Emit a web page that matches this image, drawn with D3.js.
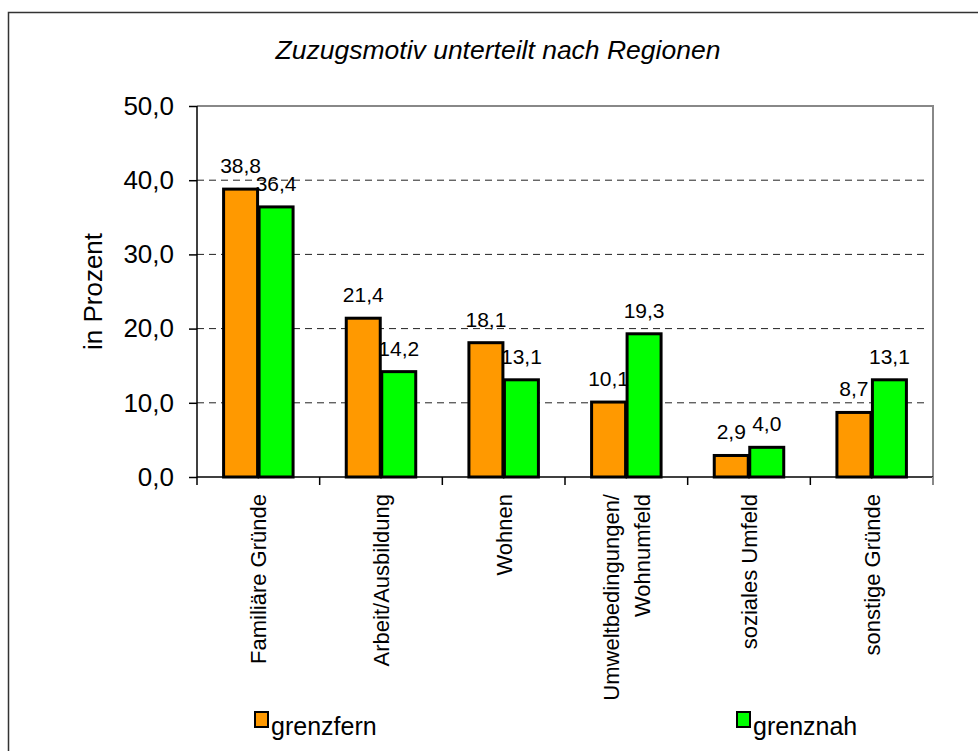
<!DOCTYPE html>
<html>
<head>
<meta charset="utf-8">
<script src="https://cdn.jsdelivr.net/npm/d3@7"></script>
<style>
  body { margin: 0; background: #fff; }
  svg { display: block; font-family: "Liberation Sans", Arial, sans-serif; }
</style>
</head>
<body>
<div id="chart"></div>
<script>
const WIDTH = 978;
const HEIGHT = 751;
const MARGIN = {top: 106, right: 45, bottom: 274, left: 197};

const categories = [
  ["Familiäre Gründe"],
  ["Arbeit/Ausbildung"],
  ["Wohnen"],
  ["Umweltbedingungen/", "Wohnumfeld"],
  ["soziales Umfeld"],
  ["sonstige Gründe"]
];
const seriesNames = ["grenzfern", "grenznah"];
const grenzfern = [38.8, 21.4, 18.1, 10.1, 2.9, 8.7];
const grenznah = [36.4, 14.2, 13.1, 19.3, 4.0, 13.1];
const yTicks = [0, 10, 20, 30, 40, 50];
const colors = ["#ff9900", "#00ff00"];

const fmt = v => d3.format(".1f")(v).replace(".", ",");

let svg = d3.select("#chart")
  .append("svg")
  .attr("width", WIDTH)
  .attr("height", HEIGHT)

// outer chart border
svg.append("rect")
  .attr("x", 8.5).attr("y", 12.5)
  .attr("width", 1000).attr("height", 1000)
  .style("fill", "none")
  .style("stroke", "#333")
  .style("stroke-width", 1.5)

svg.append("text")
  .attr("x", 498).attr("y", 59)
  .attr("text-anchor", "middle")
  .style("font-size", "26.5px")
  .style("font-style", "italic")
  .text("Zuzugsmotiv unterteilt nach Regionen")

let w = WIDTH - MARGIN.left - MARGIN.right;
let h = HEIGHT - MARGIN.top - MARGIN.bottom;

let g = svg.append("g")
  .attr("transform", `translate(${MARGIN.left}, ${MARGIN.top})`)

let keys = categories.map((c, i) => i);
let x0 = d3.scaleBand().domain(keys).range([0, w]).padding(0);
let x1 = d3.scaleBand().domain(seriesNames).range([0, x0.bandwidth()])
  .paddingInner(0).paddingOuter(0.728);
let y = d3.scaleLinear().domain([0, 50]).range([h, 0]);

// gridlines
g.selectAll("line.grid")
  .data(yTicks.filter(t => t > 0 && t < 50))
  .enter()
  .append("line")
  .attr("class", "grid")
  .attr("x1", 0).attr("x2", w - 8)
  .attr("y1", d => y(d)).attr("y2", d => y(d))
  .style("stroke", "#222")
  .style("stroke-dasharray", "7,5")

// top and right frame
g.append("path")
  .attr("d", `M0,${y(50)}H${w}V${h}`)
  .style("fill", "none")
  .style("stroke", "#888")
  .style("stroke-width", 2)

// bars
let data = [grenzfern, grenznah];
let groups = g.selectAll("g.cat")
  .data(keys)
  .enter()
  .append("g")
  .attr("transform", d => `translate(${x0(d)},0)`)

groups.selectAll("rect")
  .data(i => seriesNames.map((s, j) => ({s: s, j: j, v: data[j][i]})))
  .enter()
  .append("rect")
  .attr("x", d => x1(d.s) + 0.75)
  .attr("width", x1.bandwidth() - 1.5)
  .attr("y", d => y(d.v))
  .attr("height", d => h - y(d.v))
  .style("fill", d => colors[d.j])
  .style("stroke", "#000")
  .style("stroke-width", 3)

groups.selectAll("text.val")
  .data(i => seriesNames.map((s, j) => ({s: s, j: j, v: data[j][i]})))
  .enter()
  .append("text")
  .attr("class", "val")
  .attr("x", d => x1(d.s) + x1.bandwidth() / 2)
  .attr("y", d => y(d.v) - 16)
  .attr("text-anchor", "middle")
  .style("font-size", "21px")
  .text(d => fmt(d.v))

// y axis
let yAxis = g.append("g")
  .call(d3.axisLeft(y).tickValues(yTicks).tickFormat(fmt).tickSize(8).tickPadding(15))
yAxis.select(".domain").attr("d", `M0,0V${h}`).style("stroke", "#000").style("stroke-width", 1.5)
yAxis.selectAll(".tick line").style("stroke", "#000").style("stroke-width", 1.5)
yAxis.selectAll(".tick text")
  .style("font-size", "26px")
  .style("fill", "#000")
  .attr("font-family", null)

// x axis
let xAxis = g.append("g").attr("transform", `translate(0,${h})`)
xAxis.append("line")
  .attr("x1", 0).attr("x2", w)
  .style("stroke", "#000").style("stroke-width", 1.5)
xAxis.selectAll("line.tick")
  .data(keys.concat([keys.length]))
  .enter()
  .append("line")
  .attr("x1", d => d * x0.step()).attr("x2", d => d * x0.step())
  .attr("y1", 0).attr("y2", 8)
  .style("stroke", d => d === keys.length ? "#888" : "#000")
  .style("stroke-width", d => d === keys.length ? 2 : 1.5)

const LINE_H = 31;
xAxis.selectAll("text.cat")
  .data(keys)
  .enter()
  .append("text")
  .attr("class", "cat")
  .attr("transform", d => `translate(${x0(d) + x0.bandwidth() / 2 + 8},17) rotate(-90)`)
  .attr("text-anchor", "end")
  .style("font-size", "22px")
  .each(function(d) {
    let lines = categories[d];
    d3.select(this).selectAll("tspan")
      .data(lines)
      .enter()
      .append("tspan")
      .attr("x", 0)
      .attr("y", (l, k) => (k - (lines.length - 1) / 2) * LINE_H)
      .text(l => l)
  })

// y axis title
svg.append("text")
  .attr("transform", `translate(102,${MARGIN.top + h / 2}) rotate(-90)`)
  .attr("text-anchor", "middle")
  .style("font-size", "26px")
  .text("in Prozent")

// legend
let legendX = [255, 737];
let legend = svg.selectAll("g.legend")
  .data(seriesNames)
  .enter()
  .append("g")
  .attr("transform", (d, i) => `translate(${legendX[i]},712)`)

legend.append("rect")
  .attr("width", 13).attr("height", 15)
  .style("fill", (d, i) => colors[i])
  .style("stroke", "#000")
  .style("stroke-width", 2)

legend.append("text")
  .attr("x", 16).attr("y", 23)
  .style("font-size", "25px")
  .text(d => d)
</script>
</body>
</html>
